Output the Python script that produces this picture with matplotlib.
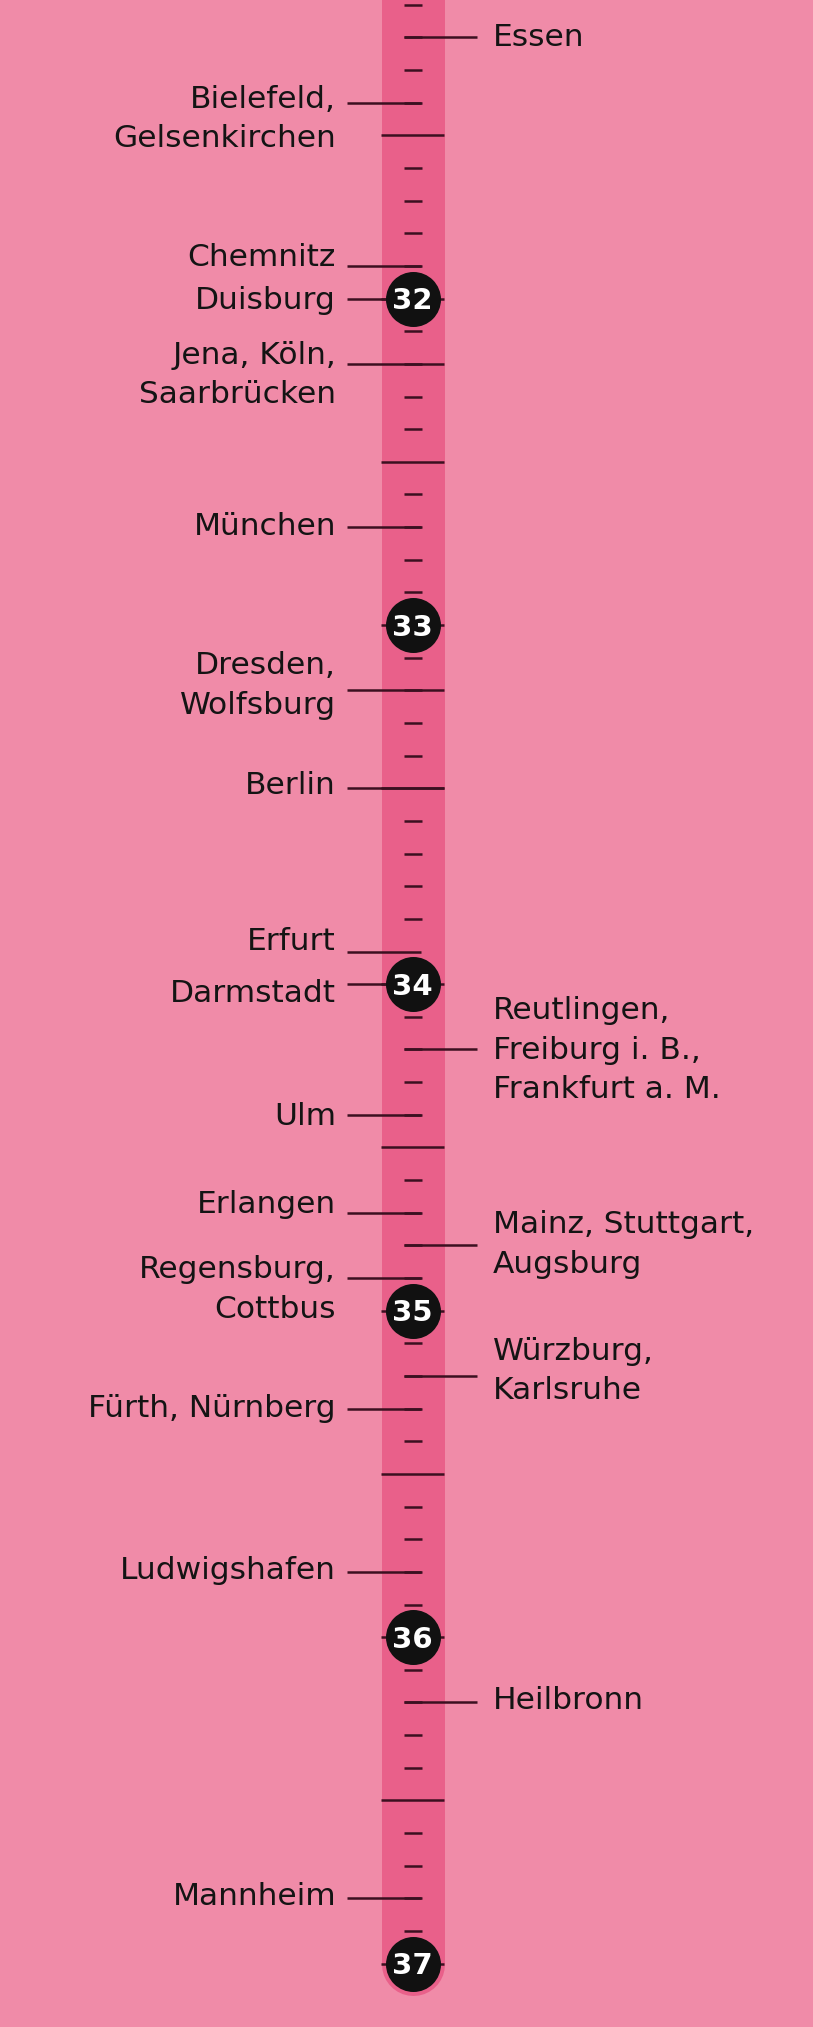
import numpy as np
import matplotlib
matplotlib.use("Agg")
import matplotlib.pyplot as plt

# Städte links der Skala und ihre Temperatur (°C)
left_cities = ["Bielefeld,\nGelsenkirchen", "Chemnitz", "Duisburg", "Jena, Köln,\nSaarbrücken",
               "München", "Dresden,\nWolfsburg", "Berlin", "Erfurt", "Darmstadt", "Ulm",
               "Erlangen", "Regensburg,\nCottbus", "Fürth, Nürnberg", "Ludwigshafen", "Mannheim"]
left_temps = [31.4, 31.9, 32.0, 32.2, 32.7, 33.2, 33.5, 33.95, 34.0, 34.4,
              34.7, 34.9, 35.3, 35.8, 36.8]

# Städte rechts der Skala
right_cities = ["Essen", "Reutlingen,\nFreiburg i. B.,\nFrankfurt a. M.",
                "Mainz, Stuttgart,\nAugsburg", "Würzburg,\nKarlsruhe", "Heilbronn"]
right_temps = [31.2, 34.2, 34.8, 35.2, 36.2]

scale_numbers = [32, 33, 34, 35, 36, 37]
ruler_ticks = np.round(np.arange(31.1, 37.05, 0.1), 1)

# Layout (Pixel)
left_dy = [5, 0, 10, 0, 8, -16, 6, -2, 18, 10, 0, 0, 8, 7, 7]
left_full = [False, False, False, True, False, True, True, False, False, False,
             False, False, False, False, False]
right_dy = [9, -30, -12, -16, 7]
line_step = 39.5

bg = "#F08BA8"
strip_col = "#E9608A"
ink = "#3b1020"
text_col = "#141414"

# Skala hat zwischen 33,9 und 34 einen zusätzlichen Strich
gap_t = [0.0, 33.9, 34.0, 100.0]
gap_p = [0.0, 33.9, 34.1, 100.1]


def fwd(t):
    return np.interp(t, gap_t, gap_p)


def inv(p):
    return np.interp(p, gap_p, gap_t)


fig = plt.figure(figsize=(8.13, 20.27), dpi=100, facecolor=bg)
ax = fig.add_axes([0, 0, 1, 1])
ax.set_facecolor(bg)
ax.set_yscale("function", functions=(fwd, inv))
ax.set_xlim(0, 813)
ax.set_ylim(37.194, 31.0855)
ax.axis("off")

cx = 412.5
# Band mit runden Enden
ax.plot([cx, cx], [30.0, 37.0], color=strip_col, lw=63 * 0.72,
        solid_capstyle="round", zorder=1)

# Skalenstriche
for v in ruler_ticks:
    k = int(round(v * 10)) % 10
    if k == 0 or k == 5:
        ax.hlines(v, 381, 444, color=ink, lw=1.8, zorder=2)
    else:
        ax.hlines(v, 404, 422, color=ink, lw=1.8, zorder=2)

fs = 22.5
# Linke Beschriftungen
for name, t, dy, full in zip(left_cities, left_temps, left_dy, left_full):
    ax.hlines(t, 347, 444 if full else 421, color=ink, lw=1.8, zorder=3)
    for i, line in enumerate(name.split("\n")):
        ax.annotate(line, xy=(336, t), xytext=(0, -(dy + i * line_step)),
                    textcoords="offset pixels", ha="right", va="baseline",
                    fontsize=fs, color=text_col, annotation_clip=False)

# Rechte Beschriftungen
for name, t, dy in zip(right_cities, right_temps, right_dy):
    ax.hlines(t, 404, 477, color=ink, lw=1.8, zorder=3)
    for i, line in enumerate(name.split("\n")):
        ax.annotate(line, xy=(493, t), xytext=(0, -(dy + i * line_step)),
                    textcoords="offset pixels", ha="left", va="baseline",
                    fontsize=fs, color=text_col, annotation_clip=False)

# Kreise mit Gradzahlen
ax.scatter([cx] * len(scale_numbers), scale_numbers, s=(55 * 0.72) ** 2,
           color="#111111", zorder=5, linewidths=0)
for n in scale_numbers:
    ax.annotate(str(n), xy=(cx, n), xytext=(0, -10.5), textcoords="offset pixels",
                ha="center", va="baseline", fontsize=21, fontweight="bold",
                color="white", zorder=6)

fig.savefig("out.png", dpi=100, facecolor=bg)
